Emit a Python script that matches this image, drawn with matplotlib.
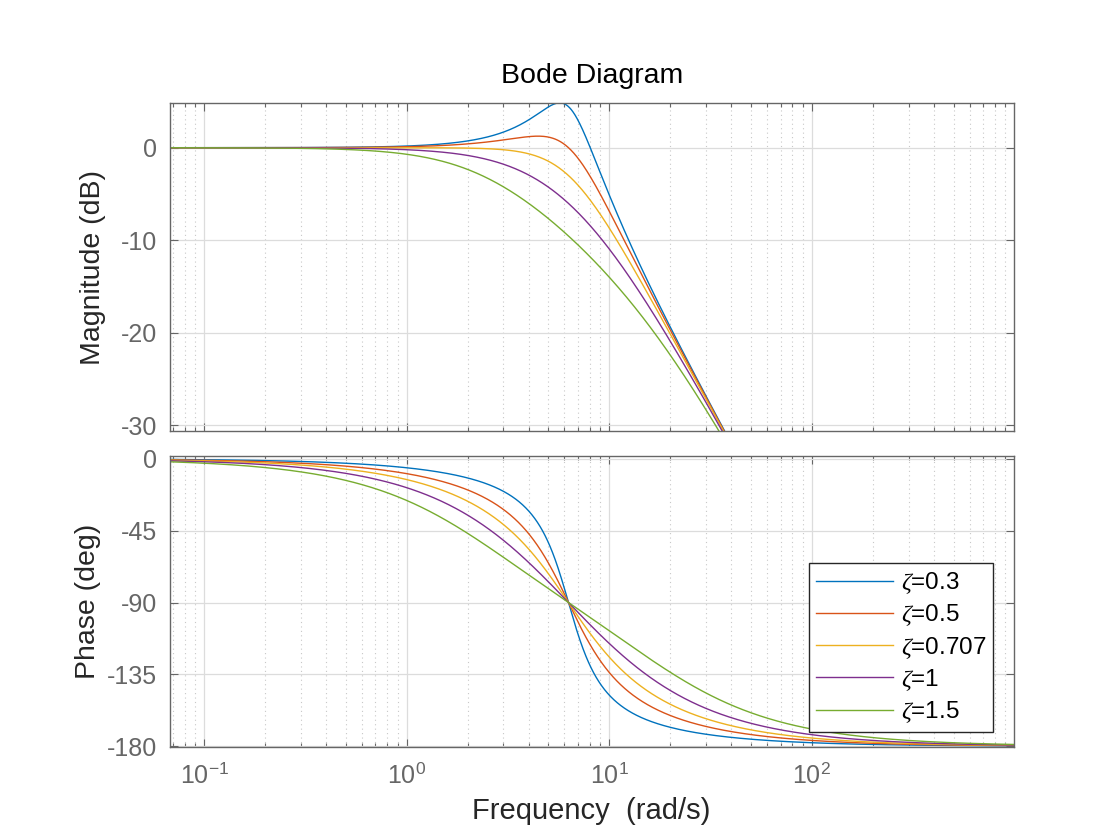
"""
Bode diagram of a second-order low-pass system for several damping ratios.
"""

import numpy as np
import matplotlib
matplotlib.use("Agg")
import matplotlib.pyplot as plt
from matplotlib.ticker import LogLocator, NullFormatter

# ── Data ──────────────────────────────────────────────────────────────────────
WN      = 2 * np.pi                       # natural frequency (rad/s)
ZETAS   = [0.3, 0.5, 0.707, 1, 1.5]
LABELS  = [r"$\zeta$=0.3", r"$\zeta$=0.5", r"$\zeta$=0.707",
           r"$\zeta$=1", r"$\zeta$=1.5"]
COLORS  = ["#0072BD", "#D95319", "#EDB120", "#7E2F8E", "#77AC30"]
FREQ    = np.logspace(np.log10(0.0675), 3, 2000)   # rad/s

MAG_TICKS   = [0, -10, -20, -30]
PHASE_TICKS = [0, -45, -90, -135, -180]
FREQ_TICKS  = [0.1, 1, 10, 100]
FREQ_LABELS = [r"$10^{-1}$", r"$10^{0}$", r"$10^{1}$", r"$10^{2}$"]

# ── Style ─────────────────────────────────────────────────────────────────────
plt.rcParams["font.family"] = ["Liberation Sans", "DejaVu Sans"]
plt.rcParams["mathtext.fontset"] = "custom"
plt.rcParams["mathtext.rm"] = "Liberation Sans"
plt.rcParams["mathtext.it"] = "Liberation Serif:italic"
plt.rcParams["axes.unicode_minus"] = False
AX_GREY  = "#666666"
TXT      = "#262626"


def response(zeta, w):
    """Frequency response of wn^2 / (s^2 + 2 zeta wn s + wn^2)."""
    s = 1j * w
    h = WN**2 / (s**2 + 2 * zeta * WN * s + WN**2)
    return 20 * np.log10(np.abs(h)), np.degrees(np.angle(h))


def style_axis(ax):
    ax.set_xscale("log")
    ax.set_xlim(0.0675, 990)
    for sp in ax.spines.values():
        sp.set_color(AX_GREY)
        sp.set_linewidth(1.0)
    ax.tick_params(which="both", direction="in", top=True, right=True,
                   colors=AX_GREY, labelsize=18)
    ax.tick_params(which="major", length=6, width=0.8, pad=9)
    ax.tick_params(which="minor", length=3, width=0.8)
    ax.set_xticks(FREQ_TICKS)
    ax.xaxis.set_minor_locator(LogLocator(base=10, subs=np.arange(2, 10)))
    ax.xaxis.set_minor_formatter(NullFormatter())
    ax.grid(True, which="major", color="#dcdcdc", linewidth=0.9)
    ax.grid(True, which="minor", axis="x", color="#c8c8c8",
            linestyle=(0, (1, 3)), linewidth=0.8)
    ax.set_axisbelow(True)


fig = plt.figure(figsize=(11.2, 8.4), dpi=100)
ax_mag = fig.add_axes([0.1515, 0.4865, 0.7535, 0.3912])
ax_ph  = fig.add_axes([0.1515, 0.1111, 0.7535, 0.3457])

for zeta, label, color in zip(ZETAS, LABELS, COLORS):
    mag, ph = response(zeta, FREQ)
    ax_mag.plot(FREQ, mag, color=color, linewidth=1.0)
    ax_ph.plot(FREQ, ph, color=color, linewidth=1.0, label=label)

style_axis(ax_mag)
ax_mag.set_ylim(-30.65, 4.86)
ax_mag.set_yticks(MAG_TICKS)
ax_mag.set_yticklabels([str(t) for t in MAG_TICKS])
ax_mag.tick_params(axis="x", which="both", labelbottom=False)
ax_mag.set_ylabel("Magnitude (dB)", fontsize=20.5, color=TXT, labelpad=11)
ax_mag.set_title("Bode Diagram", fontsize=20.5, color="black", pad=14)

style_axis(ax_ph)
ax_ph.set_ylim(-180.3, 1.6)
ax_ph.set_yticks(PHASE_TICKS)
ax_ph.set_yticklabels([str(t) for t in PHASE_TICKS])
ax_ph.set_xticklabels(FREQ_LABELS)
ax_ph.tick_params(axis="x", which="major", pad=12)
ax_ph.set_ylabel("Phase (deg)", fontsize=20.5, color=TXT, labelpad=4)
ax_ph.set_xlabel("Frequency  (rad/s)", fontsize=21, color=TXT, labelpad=6)

leg = ax_ph.legend(loc="lower right", bbox_to_anchor=(0.9754, 0.0506),
                   borderaxespad=0, fontsize=17.5, handlelength=3.2,
                   handletextpad=0.3, labelspacing=0.27, borderpad=0.28,
                   fancybox=False, framealpha=1, edgecolor="#262626")
leg.get_frame().set_linewidth(1.0)

fig.savefig("out.png", dpi=100)
